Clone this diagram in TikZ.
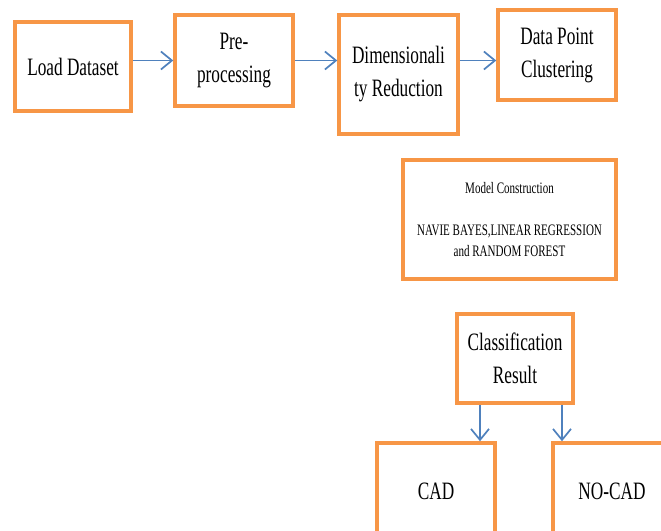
\documentclass[tikz,border=0pt]{standalone}
\usepackage{fontspec}
\setmainfont{Liberation Serif}[FakeStretch=0.69]
\usetikzlibrary{arrows.meta}
\definecolor{boxorange}{RGB}{247,150,70}
\definecolor{flowblue}{RGB}{79,129,189}
\tikzset{
  blockbox/.style={draw=boxorange,line width=3.5pt,fill=white,align=center,
    inner sep=0pt,font=\fontsize{25}{33}\selectfont},
  smallbox/.style={blockbox,font=\fontsize{16}{21}\selectfont},
  flow/.style={draw=flowblue,line width=1.7pt,-{Straight Barb[length=11pt,width=18pt,line width=1.7pt]}}
}
\begin{document}
\begin{tikzpicture}[x=1pt,y=-1pt]
\useasboundingbox (0,0) rectangle (661,530);
\clip (0,0) rectangle (661,530);
\fill[white] (0,0) rectangle (661,530);
% top row
\node[blockbox,minimum width=116pt,minimum height=89pt] (load) at (73,66.5) {Load Dataset};
\node[blockbox,minimum width=118pt,minimum height=91pt] (prep) at (234,60.5) {Pre-\\processing};
\node[blockbox,minimum width=119pt,minimum height=119pt] (dimred) at (398.5,74.5) {Dimensionali\\ty Reduction};
\node[blockbox,minimum width=118pt,minimum height=90pt] (clust) at (557,55) {Data Point\\Clustering};
% model and result
\node[smallbox,minimum width=213pt,minimum height=119pt] (model) at (509.5,219.5) {Model Construction\\[21pt]NAVIE BAYES,LINEAR REGRESSION\\and RANDOM FOREST};
\node[blockbox,minimum width=116pt,minimum height=89pt] (result) at (515,358.5) {Classification\\Result};
\node[blockbox,minimum width=118pt,minimum height=97pt] (cad) at (436,491.5) {CAD};
\node[blockbox,minimum width=118pt,minimum height=97pt] (nocad) at (612,491.5) {NO-CAD};
% arrows
\draw[flow] (load.east |- prep.west) -- (prep.west);
\draw[flow] (prep.east) -- (prep.east -| dimred.west);
\draw[flow] (prep.east -| dimred.east) -- (prep.east -| clust.west);
\draw[flow] ([xshift=-35pt]result.south) -- ([xshift=-35pt]result.south |- cad.north);
\draw[flow] ([xshift=47pt]result.south) -- ([xshift=47pt]result.south |- nocad.north);
\end{tikzpicture}
\end{document}
